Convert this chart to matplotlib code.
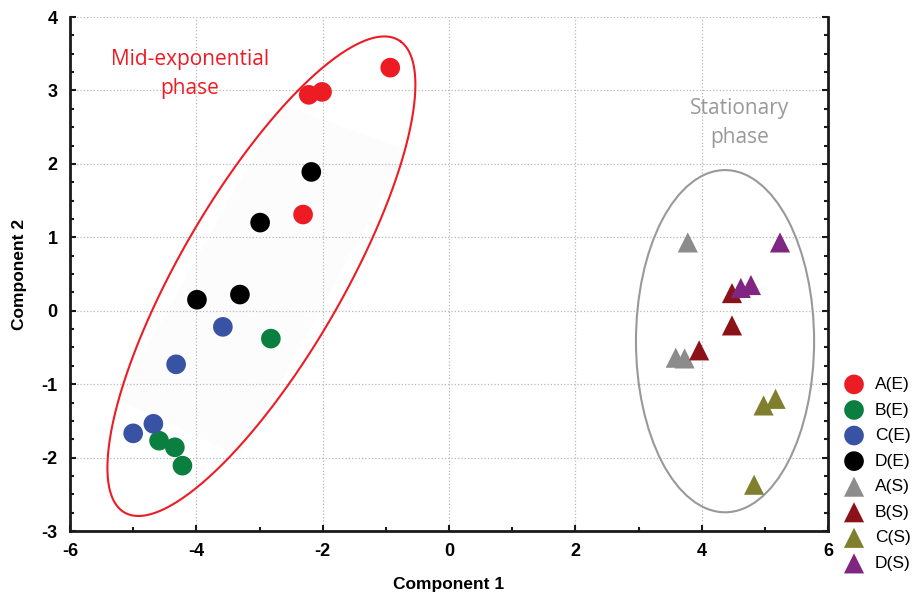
import numpy as np
import matplotlib
matplotlib.use("Agg")
import matplotlib.pyplot as plt
from matplotlib.patches import Ellipse, Polygon
from matplotlib.ticker import MultipleLocator

plt.rcParams['font.family'] = ['Liberation Sans', 'DejaVu Sans']
plt.rcParams['axes.unicode_minus'] = False

# groups and colours
labels = ['A(E)', 'B(E)', 'C(E)', 'D(E)', 'A(S)', 'B(S)', 'C(S)', 'D(S)']
colors = ['#ED1C24', '#0A7F3F', '#3953A4', '#000000',
          '#8C8C8C', '#8B1218', '#7F7F2E', '#7F2582']

# component scores
ax_x = [-0.93, -2.22, -2.01, -2.31]
ax_y = [3.31, 2.94, 2.98, 1.31]
bx_x = [-2.82, -4.59, -4.34, -4.22]
bx_y = [-0.38, -1.77, -1.86, -2.11]
cx_x = [-3.58, -4.32, -5.00, -4.68]
cx_y = [-0.22, -0.73, -1.67, -1.54]
dx_x = [-2.18, -2.99, -3.99, -3.31]
dx_y = [1.89, 1.20, 0.15, 0.22]
as_x = [3.78, 3.59, 3.73]
as_y = [0.93, -0.64, -0.65]
bs_x = [4.48, 4.48, 3.96]
bs_y = [0.24, -0.20, -0.54]
cs_x = [4.98, 5.17, 4.83]
cs_y = [-1.29, -1.20, -2.37]
ds_x = [5.24, 4.62, 4.78]
ds_y = [0.93, 0.31, 0.35]

xs = [ax_x, bx_x, cx_x, dx_x, as_x, bs_x, cs_x, ds_x]
ys = [ax_y, bx_y, cx_y, dx_y, as_y, bs_y, cs_y, ds_y]

fig = plt.figure(figsize=(9.18, 5.95), dpi=100)
ax = fig.add_axes([70/918, 1 - 531/595, 758/918, 514/595])

# faint shaded band inside the red ellipse
band = Polygon([(-5.24, -1.21), (-2.64, 2.80), (-0.66, 2.19), (-3.31, -1.99)],
               closed=True, facecolor='#fcfcfc', edgecolor='none', zorder=0)
ax.add_patch(band)

# red ellipse (built from two conjugate half-axes)
t = np.linspace(0, 2*np.pi, 400)
c = (-2.97, 0.47)
a = (2.2, 3.2)
b = (1.05, -0.65)
ex = c[0] + a[0]*np.cos(t) + b[0]*np.sin(t)
ey = c[1] + a[1]*np.cos(t) + b[1]*np.sin(t)
ax.plot(ex, ey, color='#ED1C24', lw=1.5, zorder=2)

# gray ellipse
ax.add_patch(Ellipse((4.37, -0.415), 2.82, 4.66, fill=False,
                     edgecolor='#999999', lw=1.5, zorder=2))

for i in range(8):
    m = 'o' if i < 4 else '^'
    s = 200 if i < 4 else 210
    ax.scatter(xs[i], ys[i], s=s, marker=m, color=colors[i],
               edgecolors='none', label=labels[i], zorder=3)

ax.text(-4.1, 3.22, 'Mid-exponential\nphase', color='#ED1C24',
        fontsize=15, ha='center', va='center', family='Open Sans',
        linespacing=1.5)
ax.text(4.6, 2.56, 'Stationary\nphase', color='#999999',
        fontsize=15, ha='center', va='center', family='Open Sans',
        linespacing=1.5)

ax.set_xlim(-6, 6)
ax.set_ylim(-3, 4)
ax.xaxis.set_major_locator(MultipleLocator(2))
ax.xaxis.set_minor_locator(MultipleLocator(1))
ax.yaxis.set_major_locator(MultipleLocator(1))
ax.yaxis.set_minor_locator(MultipleLocator(0.25))
ax.grid(True, which='major', color='#b8b8b8', ls=':', lw=0.9, zorder=0)
ax.set_axisbelow(True)

ax.spines['top'].set_visible(False)
for sp in ['left', 'bottom', 'right']:
    ax.spines[sp].set_linewidth(2)
    ax.spines[sp].set_color('#1a1a1a')
ax.tick_params(which='both', direction='in', right=True, top=False,
               width=1.5, color='#1a1a1a')
ax.tick_params(which='major', length=4, labelsize=13, pad=9)
ax.tick_params(which='minor', length=3)
for lab in ax.get_xticklabels() + ax.get_yticklabels():
    lab.set_fontweight('bold')

ax.set_xlabel('Component 1', fontsize=12.5, fontweight='bold', labelpad=12)
ax.set_ylabel('Component 2', fontsize=12.5, fontweight='bold', labelpad=10)

leg = ax.legend(loc='upper left', bbox_to_anchor=(1.016, 0.30), frameon=False,
                fontsize=12.5, handletextpad=0.4, labelspacing=0.6,
                borderaxespad=0, handlelength=1.6, borderpad=0)

fig.savefig('out.png', dpi=100)
